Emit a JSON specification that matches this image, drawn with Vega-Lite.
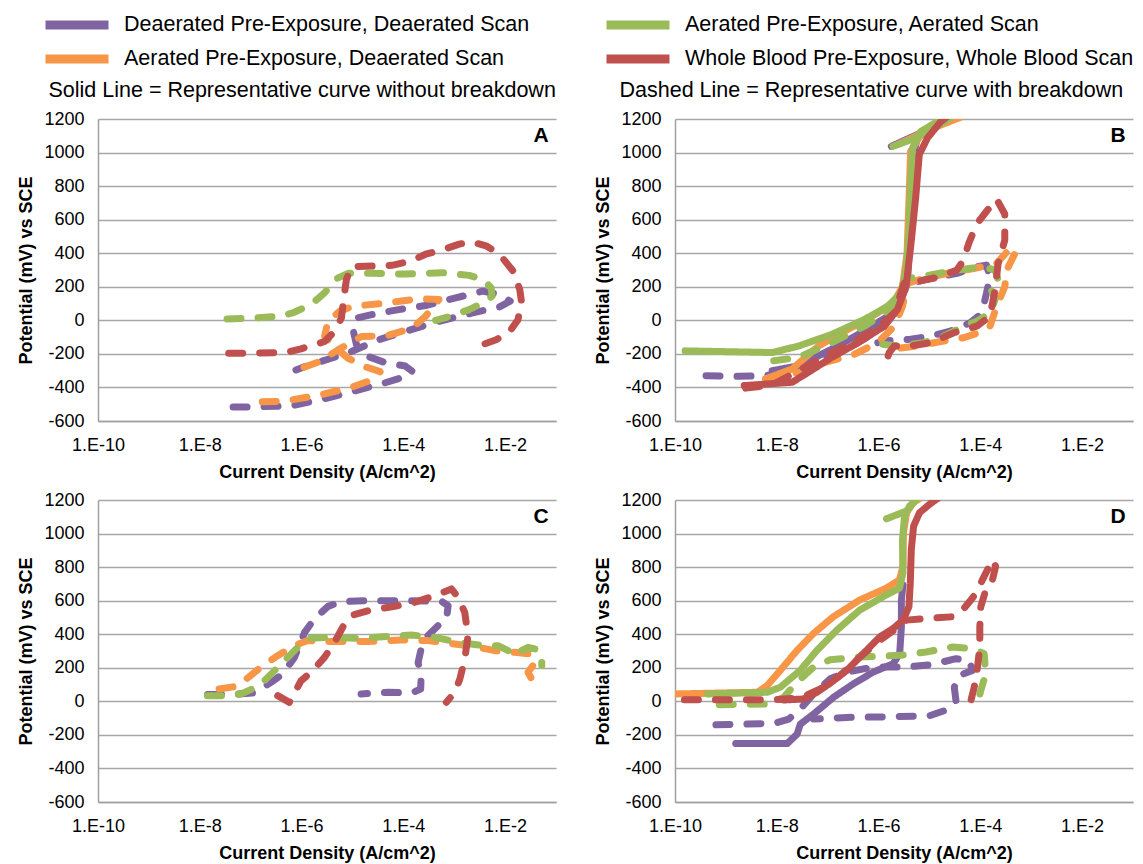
{
  "$schema": "https://vega.github.io/schema/vega-lite/v6.json",
  "padding": {"left": 17, "top": 10, "right": 5, "bottom": 2},
  "background": "white",
  "config": {
    "font": "Liberation Sans",
    "view": {"stroke": null},
    "axis": {"labelFont": "Liberation Sans", "labelFontSize": 18, "labelColor": "#000000", "titleFont": "Liberation Sans", "titleFontSize": 18, "titleFontWeight": "bold", "titleColor": "#000000", "domainColor": "#a0a0a0", "domainWidth": 1.5, "gridColor": "#a6a6a6", "gridWidth": 1.3, "ticks": false, "labelOverlap": false},
    "axisX": {"grid": false, "labelPadding": 15, "titlePadding": 9, "labelFlush": false, "tickCount": 20},
    "axisY": {"grid": true, "labelPadding": 14, "titlePadding": 8, "tickCount": 20},
    "legend": {"labelFontSize": 21.5, "labelFont": "Liberation Sans", "labelColor": "#000000", "labelLimit": 700, "title": null}
  },
  "data": {"values": [
    {"p":"A","s":"DD","t":"dashed","x":4.51e-8,"y":-516},{"p":"A","s":"DD","t":"dashed","x":1.07e-7,"y":-516},{"p":"A","s":"DD","t":"dashed","x":6.18e-7,"y":-510},{"p":"A","s":"DD","t":"dashed","x":2.43e-6,"y":-472},{"p":"A","s":"DD","t":"dashed","x":9.57e-6,"y":-426},{"p":"A","s":"DD","t":"dashed","x":4.40e-5,"y":-372},{"p":"A","s":"DD","t":"dashed","x":1.09e-4,"y":-336},{"p":"A","s":"DD","t":"dashed","x":1.53e-4,"y":-306},{"p":"A","s":"DD","t":"dashed","x":1.09e-4,"y":-272},{"p":"A","s":"DD","t":"dashed","x":4.40e-5,"y":-252},{"p":"A","s":"DD","t":"dashed","x":2.05e-5,"y":-216},{"p":"A","s":"DD","t":"dashed","x":1.20e-5,"y":-146},{"p":"A","s":"DD","t":"dashed","x":1.03e-5,"y":-56},{"p":"A","s":"DD","t":"dashed","x":1.20e-5,"y":14},{"p":"A","s":"DD","t":"dashed","x":2.39e-5,"y":34},{"p":"A","s":"DD","t":"dashed","x":8.07e-5,"y":64},{"p":"A","s":"DD","t":"dashed","x":2.73e-4,"y":88},{"p":"A","s":"DD","t":"dashed","x":1.07e-3,"y":134},{"p":"A","s":"DD","t":"dashed","x":3.63e-3,"y":174},{"p":"A","s":"DD","t":"dashed","x":7.78e-3,"y":154},{"p":"A","s":"DD","t":"dashed","x":1.26e-2,"y":114},{"p":"A","s":"DD","t":"dashed","x":7.78e-3,"y":80},{"p":"A","s":"DD","t":"dashed","x":2.30e-3,"y":44},{"p":"A","s":"DD","t":"dashed","x":5.01e-4,"y":-6},{"p":"A","s":"DD","t":"dashed","x":1.09e-4,"y":-66},{"p":"A","s":"DD","t":"dashed","x":3.24e-5,"y":-116},{"p":"A","s":"DD","t":"dashed","x":9.57e-6,"y":-186},{"p":"A","s":"DD","t":"dashed","x":3.85e-6,"y":-226},{"p":"A","s":"DD","t":"dashed","x":1.14e-6,"y":-276},{"p":"A","s":"DD","t":"dashed","x":7.76e-7,"y":-296},
    {"p":"A","s":"AD","t":"dashed","x":1.69e-7,"y":-486},{"p":"A","s":"AD","t":"dashed","x":4.56e-7,"y":-482},{"p":"A","s":"AD","t":"dashed","x":2.25e-6,"y":-446},{"p":"A","s":"AD","t":"dashed","x":1.03e-5,"y":-396},{"p":"A","s":"AD","t":"dashed","x":2.39e-5,"y":-356},{"p":"A","s":"AD","t":"dashed","x":3.49e-5,"y":-306},{"p":"A","s":"AD","t":"dashed","x":1.76e-5,"y":-276},{"p":"A","s":"AD","t":"dashed","x":8.22e-6,"y":-226},{"p":"A","s":"AD","t":"dashed","x":4.83e-6,"y":-166},{"p":"A","s":"AD","t":"dashed","x":2.83e-6,"y":-96},{"p":"A","s":"AD","t":"dashed","x":3.30e-6,"y":-6},{"p":"A","s":"AD","t":"dashed","x":5.62e-6,"y":54},{"p":"A","s":"AD","t":"dashed","x":1.03e-5,"y":84},{"p":"A","s":"AD","t":"dashed","x":3.77e-5,"y":100},{"p":"A","s":"AD","t":"dashed","x":2.01e-4,"y":128},{"p":"A","s":"AD","t":"dashed","x":5.01e-4,"y":124},{"p":"A","s":"AD","t":"dashed","x":2.73e-4,"y":24},{"p":"A","s":"AD","t":"dashed","x":1.48e-4,"y":-46},{"p":"A","s":"AD","t":"dashed","x":4.74e-5,"y":-92},{"p":"A","s":"AD","t":"dashed","x":1.51e-5,"y":-96},{"p":"A","s":"AD","t":"dashed","x":5.21e-6,"y":-176},{"p":"A","s":"AD","t":"dashed","x":2.25e-6,"y":-246},{"p":"A","s":"AD","t":"dashed","x":9.75e-7,"y":-286},
    {"p":"A","s":"AA","t":"dashed","x":3.43e-8,"y":8},{"p":"A","s":"AA","t":"dashed","x":9.23e-8,"y":12},{"p":"A","s":"AA","t":"dashed","x":3.92e-7,"y":24},{"p":"A","s":"AA","t":"dashed","x":7.19e-7,"y":48},{"p":"A","s":"AA","t":"dashed","x":1.54e-6,"y":94},{"p":"A","s":"AA","t":"dashed","x":2.83e-6,"y":164},{"p":"A","s":"AA","t":"dashed","x":4.83e-6,"y":248},{"p":"A","s":"AA","t":"dashed","x":8.22e-6,"y":280},{"p":"A","s":"AA","t":"dashed","x":2.39e-5,"y":280},{"p":"A","s":"AA","t":"dashed","x":1.09e-4,"y":276},{"p":"A","s":"AA","t":"dashed","x":5.85e-4,"y":284},{"p":"A","s":"AA","t":"dashed","x":1.97e-3,"y":268},{"p":"A","s":"AA","t":"dashed","x":3.63e-3,"y":244},{"p":"A","s":"AA","t":"dashed","x":5.31e-3,"y":194},{"p":"A","s":"AA","t":"dashed","x":5.56e-3,"y":144},{"p":"A","s":"AA","t":"dashed","x":3.63e-3,"y":104},{"p":"A","s":"AA","t":"dashed","x":1.97e-3,"y":64},{"p":"A","s":"AA","t":"dashed","x":9.23e-4,"y":28},{"p":"A","s":"AA","t":"dashed","x":4.31e-4,"y":0},
    {"p":"A","s":"WB","t":"dashed","x":3.70e-8,"y":-196},{"p":"A","s":"WB","t":"dashed","x":1.0e-7,"y":-196},{"p":"A","s":"WB","t":"dashed","x":4.92e-7,"y":-192},{"p":"A","s":"WB","t":"dashed","x":9.75e-7,"y":-170},{"p":"A","s":"WB","t":"dashed","x":2.83e-6,"y":-126},{"p":"A","s":"WB","t":"dashed","x":4.48e-6,"y":-66},{"p":"A","s":"WB","t":"dashed","x":6.07e-6,"y":14},{"p":"A","s":"WB","t":"dashed","x":6.85e-6,"y":144},{"p":"A","s":"WB","t":"dashed","x":7.62e-6,"y":244},{"p":"A","s":"WB","t":"dashed","x":9.57e-6,"y":320},{"p":"A","s":"WB","t":"dashed","x":2.78e-5,"y":324},{"p":"A","s":"WB","t":"dashed","x":5.96e-5,"y":328},{"p":"A","s":"WB","t":"dashed","x":1.37e-4,"y":352},{"p":"A","s":"WB","t":"dashed","x":2.73e-4,"y":394},{"p":"A","s":"WB","t":"dashed","x":5.85e-4,"y":420},{"p":"A","s":"WB","t":"dashed","x":1.25e-3,"y":454},{"p":"A","s":"WB","t":"dashed","x":2.13e-3,"y":468},{"p":"A","s":"WB","t":"dashed","x":4.23e-3,"y":444},{"p":"A","s":"WB","t":"dashed","x":7.78e-3,"y":394},{"p":"A","s":"WB","t":"dashed","x":1.43e-2,"y":294},{"p":"A","s":"WB","t":"dashed","x":1.94e-2,"y":184},{"p":"A","s":"WB","t":"dashed","x":2.09e-2,"y":114},{"p":"A","s":"WB","t":"dashed","x":1.79e-2,"y":4},{"p":"A","s":"WB","t":"dashed","x":1.23e-2,"y":-66},{"p":"A","s":"WB","t":"dashed","x":6.67e-3,"y":-116},{"p":"A","s":"WB","t":"dashed","x":2.30e-3,"y":-166},

    {"p":"B","s":"DD","t":"dashed","x":4.07e-10,"y":-330},{"p":"B","s":"DD","t":"dashed","x":1.82e-9,"y":-334},{"p":"B","s":"DD","t":"dashed","x":6.03e-9,"y":-330},{"p":"B","s":"DD","t":"dashed","x":2.00e-8,"y":-300},{"p":"B","s":"DD","t":"dashed","x":8.91e-8,"y":-221},{"p":"B","s":"DD","t":"dashed","x":3.98e-7,"y":-133},{"p":"B","s":"DD","t":"dashed","x":1.29e-6,"y":-35},{"p":"B","s":"DD","t":"dashed","x":2.34e-6,"y":64},{"p":"B","s":"DD","t":"dashed","x":3.16e-6,"y":172},{"p":"B","s":"DD","t":"dashed","x":4.27e-6,"y":221},{"p":"B","s":"DD","t":"dashed","x":1.05e-5,"y":250},{"p":"B","s":"DD","t":"dashed","x":3.47e-5,"y":280},{"p":"B","s":"DD","t":"dashed","x":8.51e-5,"y":319},{"p":"B","s":"DD","t":"dashed","x":1.32e-4,"y":329},{"p":"B","s":"DD","t":"dashed","x":1.55e-4,"y":260},{"p":"B","s":"DD","t":"dashed","x":1.32e-4,"y":162},{"p":"B","s":"DD","t":"dashed","x":1.15e-4,"y":83},{"p":"B","s":"DD","t":"dashed","x":9.12e-5,"y":24},{"p":"B","s":"DD","t":"dashed","x":6.31e-5,"y":-15},{"p":"B","s":"DD","t":"dashed","x":2.57e-5,"y":-64},{"p":"B","s":"DD","t":"dashed","x":1.05e-5,"y":-94},{"p":"B","s":"DD","t":"dashed","x":4.27e-6,"y":-113},{"p":"B","s":"DD","t":"dashed","x":1.29e-6,"y":-123},{"p":"B","s":"DD","t":"dashed","x":9.66e-7,"y":-133},
    {"p":"B","s":"DD","t":"solid","x":8.13e-9,"y":-300},{"p":"B","s":"DD","t":"solid","x":2.69e-8,"y":-271},{"p":"B","s":"DD","t":"solid","x":1.20e-7,"y":-172},{"p":"B","s":"DD","t":"solid","x":5.25e-7,"y":-64},{"p":"B","s":"DD","t":"solid","x":1.51e-6,"y":24},{"p":"B","s":"DD","t":"solid","x":2.75e-6,"y":122},{"p":"B","s":"DD","t":"solid","x":3.72e-6,"y":241},{"p":"B","s":"DD","t":"solid","x":4.17e-6,"y":535},{"p":"B","s":"DD","t":"solid","x":4.47e-6,"y":929},{"p":"B","s":"DD","t":"solid","x":5.75e-6,"y":1086},{"p":"B","s":"DD","t":"solid","x":1.41e-5,"y":1174},{"p":"B","s":"DD","t":"solid","x":3.02e-5,"y":1210},{"p":"B","s":"DD","t":"solid","x":9.12e-6,"y":1135},{"p":"B","s":"DD","t":"solid","x":1.78e-6,"y":1037},
    {"p":"B","s":"AD","t":"dashed","x":6.03e-9,"y":-349},{"p":"B","s":"AD","t":"dashed","x":2.69e-8,"y":-310},{"p":"B","s":"AD","t":"dashed","x":5.62e-8,"y":-290},{"p":"B","s":"AD","t":"dashed","x":8.91e-8,"y":-251},{"p":"B","s":"AD","t":"dashed","x":3.39e-7,"y":-202},{"p":"B","s":"AD","t":"dashed","x":9.66e-7,"y":-133},{"p":"B","s":"AD","t":"dashed","x":2.04e-6,"y":-35},{"p":"B","s":"AD","t":"dashed","x":2.95e-6,"y":83},{"p":"B","s":"AD","t":"dashed","x":3.72e-6,"y":221},{"p":"B","s":"AD","t":"dashed","x":7.76e-6,"y":250},{"p":"B","s":"AD","t":"dashed","x":2.57e-5,"y":284},{"p":"B","s":"AD","t":"dashed","x":7.41e-5,"y":309},{"p":"B","s":"AD","t":"dashed","x":2.09e-4,"y":339},{"p":"B","s":"AD","t":"dashed","x":3.80e-4,"y":427},{"p":"B","s":"AD","t":"dashed","x":5.13e-4,"y":417},{"p":"B","s":"AD","t":"dashed","x":3.31e-4,"y":300},{"p":"B","s":"AD","t":"dashed","x":3.02e-4,"y":201},{"p":"B","s":"AD","t":"dashed","x":2.09e-4,"y":83},{"p":"B","s":"AD","t":"dashed","x":1.55e-4,"y":-35},{"p":"B","s":"AD","t":"dashed","x":1.15e-4,"y":-64},{"p":"B","s":"AD","t":"dashed","x":4.68e-5,"y":-104},{"p":"B","s":"AD","t":"dashed","x":1.91e-5,"y":-123},{"p":"B","s":"AD","t":"dashed","x":5.75e-6,"y":-153},{"p":"B","s":"AD","t":"dashed","x":1.74e-6,"y":-172},
    {"p":"B","s":"AD","t":"solid","x":6.03e-9,"y":-349},{"p":"B","s":"AD","t":"solid","x":2.00e-8,"y":-290},{"p":"B","s":"AD","t":"solid","x":6.61e-8,"y":-153},{"p":"B","s":"AD","t":"solid","x":2.51e-7,"y":-54},{"p":"B","s":"AD","t":"solid","x":9.66e-7,"y":44},{"p":"B","s":"AD","t":"solid","x":2.04e-6,"y":113},{"p":"B","s":"AD","t":"solid","x":2.95e-6,"y":201},{"p":"B","s":"AD","t":"solid","x":3.63e-6,"y":398},{"p":"B","s":"AD","t":"solid","x":3.98e-6,"y":732},{"p":"B","s":"AD","t":"solid","x":4.27e-6,"y":1007},{"p":"B","s":"AD","t":"solid","x":7.76e-6,"y":1135},{"p":"B","s":"AD","t":"solid","x":1.91e-5,"y":1180},{"p":"B","s":"AD","t":"solid","x":4.07e-5,"y":1210},{"p":"B","s":"AD","t":"solid","x":1.05e-5,"y":1140},{"p":"B","s":"AD","t":"solid","x":2.34e-6,"y":1047},
    {"p":"B","s":"AA","t":"dashed","x":8.71e-9,"y":-241},{"p":"B","s":"AA","t":"dashed","x":2.69e-8,"y":-221},{"p":"B","s":"AA","t":"dashed","x":1.20e-7,"y":-133},{"p":"B","s":"AA","t":"dashed","x":5.25e-7,"y":-35},{"p":"B","s":"AA","t":"dashed","x":1.74e-6,"y":64},{"p":"B","s":"AA","t":"dashed","x":2.95e-6,"y":182},{"p":"B","s":"AA","t":"dashed","x":3.72e-6,"y":250},{"p":"B","s":"AA","t":"dashed","x":1.05e-5,"y":270},{"p":"B","s":"AA","t":"dashed","x":3.47e-5,"y":300},{"p":"B","s":"AA","t":"dashed","x":1.15e-4,"y":319},{"p":"B","s":"AA","t":"dashed","x":1.95e-4,"y":300},{"p":"B","s":"AA","t":"dashed","x":2.24e-4,"y":241},{"p":"B","s":"AA","t":"dashed","x":1.55e-4,"y":201},{"p":"B","s":"AA","t":"dashed","x":1.95e-4,"y":123},{"p":"B","s":"AA","t":"dashed","x":1.55e-4,"y":44},{"p":"B","s":"AA","t":"dashed","x":8.51e-5,"y":-5},{"p":"B","s":"AA","t":"dashed","x":4.68e-5,"y":-35},{"p":"B","s":"AA","t":"dashed","x":1.91e-5,"y":-94},{"p":"B","s":"AA","t":"dashed","x":7.76e-6,"y":-133},{"p":"B","s":"AA","t":"dashed","x":2.34e-6,"y":-153},{"p":"B","s":"AA","t":"dashed","x":8.32e-7,"y":-137},
    {"p":"B","s":"AA","t":"solid","x":1.58e-10,"y":-182},{"p":"B","s":"AA","t":"solid","x":8.13e-9,"y":-192},{"p":"B","s":"AA","t":"solid","x":2.69e-8,"y":-153},{"p":"B","s":"AA","t":"solid","x":1.20e-7,"y":-84},{"p":"B","s":"AA","t":"solid","x":5.25e-7,"y":5},{"p":"B","s":"AA","t":"solid","x":1.51e-6,"y":83},{"p":"B","s":"AA","t":"solid","x":2.75e-6,"y":162},{"p":"B","s":"AA","t":"solid","x":3.47e-6,"y":300},{"p":"B","s":"AA","t":"solid","x":3.98e-6,"y":535},{"p":"B","s":"AA","t":"solid","x":4.27e-6,"y":830},{"p":"B","s":"AA","t":"solid","x":4.68e-6,"y":1027},{"p":"B","s":"AA","t":"solid","x":6.76e-6,"y":1125},{"p":"B","s":"AA","t":"solid","x":1.41e-5,"y":1184},{"p":"B","s":"AA","t":"solid","x":2.57e-5,"y":1205},{"p":"B","s":"AA","t":"solid","x":1.05e-5,"y":1135},{"p":"B","s":"AA","t":"solid","x":4.27e-6,"y":1076},{"p":"B","s":"AA","t":"solid","x":1.91e-6,"y":1037},
    {"p":"B","s":"WB","t":"dashed","x":2.45e-9,"y":-404},{"p":"B","s":"WB","t":"dashed","x":8.13e-9,"y":-385},{"p":"B","s":"WB","t":"dashed","x":2.69e-8,"y":-300},{"p":"B","s":"WB","t":"dashed","x":8.91e-8,"y":-212},{"p":"B","s":"WB","t":"dashed","x":2.95e-7,"y":-133},{"p":"B","s":"WB","t":"dashed","x":9.66e-7,"y":-44},{"p":"B","s":"WB","t":"dashed","x":2.04e-6,"y":44},{"p":"B","s":"WB","t":"dashed","x":2.75e-6,"y":162},{"p":"B","s":"WB","t":"dashed","x":3.16e-6,"y":221},{"p":"B","s":"WB","t":"dashed","x":5.75e-6,"y":231},{"p":"B","s":"WB","t":"dashed","x":1.41e-5,"y":256},{"p":"B","s":"WB","t":"dashed","x":3.47e-5,"y":300},{"p":"B","s":"WB","t":"dashed","x":4.68e-5,"y":359},{"p":"B","s":"WB","t":"dashed","x":5.89e-5,"y":457},{"p":"B","s":"WB","t":"dashed","x":8.51e-5,"y":575},{"p":"B","s":"WB","t":"dashed","x":1.35e-4,"y":653},{"p":"B","s":"WB","t":"dashed","x":2.09e-4,"y":722},{"p":"B","s":"WB","t":"dashed","x":3.02e-4,"y":634},{"p":"B","s":"WB","t":"dashed","x":3.02e-4,"y":477},{"p":"B","s":"WB","t":"dashed","x":2.24e-4,"y":339},{"p":"B","s":"WB","t":"dashed","x":1.95e-4,"y":182},{"p":"B","s":"WB","t":"dashed","x":1.55e-4,"y":24},{"p":"B","s":"WB","t":"dashed","x":8.51e-5,"y":-35},{"p":"B","s":"WB","t":"dashed","x":3.02e-5,"y":-74},{"p":"B","s":"WB","t":"dashed","x":1.05e-5,"y":-133},{"p":"B","s":"WB","t":"dashed","x":4.27e-6,"y":-153},{"p":"B","s":"WB","t":"dashed","x":2.04e-6,"y":-153},{"p":"B","s":"WB","t":"dashed","x":1.62e-6,"y":-192},{"p":"B","s":"WB","t":"dashed","x":1.30e-6,"y":-280},
    {"p":"B","s":"WB","t":"solid","x":2.29e-9,"y":-389},{"p":"B","s":"WB","t":"solid","x":2.00e-8,"y":-369},{"p":"B","s":"WB","t":"solid","x":4.17e-8,"y":-310},{"p":"B","s":"WB","t":"solid","x":1.20e-7,"y":-221},{"p":"B","s":"WB","t":"solid","x":3.98e-7,"y":-133},{"p":"B","s":"WB","t":"solid","x":1.29e-6,"y":-35},{"p":"B","s":"WB","t":"solid","x":2.34e-6,"y":64},{"p":"B","s":"WB","t":"solid","x":3.47e-6,"y":201},{"p":"B","s":"WB","t":"solid","x":4.27e-6,"y":437},{"p":"B","s":"WB","t":"solid","x":5.37e-6,"y":732},{"p":"B","s":"WB","t":"solid","x":6.31e-6,"y":988},{"p":"B","s":"WB","t":"solid","x":9.12e-6,"y":1086},{"p":"B","s":"WB","t":"solid","x":1.66e-5,"y":1184},{"p":"B","s":"WB","t":"solid","x":2.24e-5,"y":1214},

    {"p":"C","s":"DD","t":"dashed","x":1.42e-8,"y":40},{"p":"C","s":"DD","t":"dashed","x":3.52e-8,"y":40},{"p":"C","s":"DD","t":"dashed","x":1.18e-7,"y":50},{"p":"C","s":"DD","t":"dashed","x":2.51e-7,"y":113},{"p":"C","s":"DD","t":"dashed","x":4.27e-7,"y":163},{"p":"C","s":"DD","t":"dashed","x":7.24e-7,"y":262},{"p":"C","s":"DD","t":"dashed","x":1.15e-6,"y":411},{"p":"C","s":"DD","t":"dashed","x":1.78e-6,"y":491},{"p":"C","s":"DD","t":"dashed","x":3.31e-6,"y":566},{"p":"C","s":"DD","t":"dashed","x":6.03e-6,"y":594},{"p":"C","s":"DD","t":"dashed","x":2.00e-5,"y":600},{"p":"C","s":"DD","t":"dashed","x":9.12e-5,"y":600},{"p":"C","s":"DD","t":"dashed","x":5.62e-4,"y":596},{"p":"C","s":"DD","t":"dashed","x":7.59e-4,"y":570},{"p":"C","s":"DD","t":"dashed","x":7.08e-4,"y":491},{"p":"C","s":"DD","t":"dashed","x":4.79e-4,"y":451},{"p":"C","s":"DD","t":"dashed","x":3.02e-4,"y":391},{"p":"C","s":"DD","t":"dashed","x":2.24e-4,"y":312},{"p":"C","s":"DD","t":"dashed","x":1.95e-4,"y":232},{"p":"C","s":"DD","t":"dashed","x":2.24e-4,"y":153},{"p":"C","s":"DD","t":"dashed","x":2.19e-4,"y":73},{"p":"C","s":"DD","t":"dashed","x":1.45e-4,"y":50},{"p":"C","s":"DD","t":"dashed","x":5.01e-5,"y":54},{"p":"C","s":"DD","t":"dashed","x":1.48e-5,"y":44},
    {"p":"C","s":"AD","t":"dashed","x":2.40e-8,"y":74},{"p":"C","s":"AD","t":"dashed","x":5.50e-8,"y":90},{"p":"C","s":"AD","t":"dashed","x":7.50e-8,"y":123},{"p":"C","s":"AD","t":"dashed","x":1.58e-7,"y":203},{"p":"C","s":"AD","t":"dashed","x":3.39e-7,"y":272},{"p":"C","s":"AD","t":"dashed","x":7.24e-7,"y":332},{"p":"C","s":"AD","t":"dashed","x":1.32e-6,"y":362},{"p":"C","s":"AD","t":"dashed","x":4.47e-6,"y":356},{"p":"C","s":"AD","t":"dashed","x":2.00e-5,"y":356},{"p":"C","s":"AD","t":"dashed","x":9.12e-5,"y":366},{"p":"C","s":"AD","t":"dashed","x":3.05e-4,"y":362},{"p":"C","s":"AD","t":"dashed","x":1.02e-3,"y":342},{"p":"C","s":"AD","t":"dashed","x":2.95e-3,"y":322},{"p":"C","s":"AD","t":"dashed","x":6.31e-3,"y":302},{"p":"C","s":"AD","t":"dashed","x":1.55e-2,"y":292},{"p":"C","s":"AD","t":"dashed","x":3.31e-2,"y":282},{"p":"C","s":"AD","t":"dashed","x":3.89e-2,"y":232},{"p":"C","s":"AD","t":"dashed","x":2.82e-2,"y":173},{"p":"C","s":"AD","t":"dashed","x":3.31e-2,"y":133},{"p":"C","s":"AD","t":"dashed","x":5.25e-2,"y":163},
    {"p":"C","s":"AA","t":"dashed","x":1.41e-8,"y":34},{"p":"C","s":"AA","t":"dashed","x":3.55e-8,"y":34},{"p":"C","s":"AA","t":"dashed","x":6.46e-8,"y":44},{"p":"C","s":"AA","t":"dashed","x":1.48e-7,"y":93},{"p":"C","s":"AA","t":"dashed","x":2.95e-7,"y":183},{"p":"C","s":"AA","t":"dashed","x":5.37e-7,"y":262},{"p":"C","s":"AA","t":"dashed","x":9.77e-7,"y":342},{"p":"C","s":"AA","t":"dashed","x":1.41e-6,"y":375},{"p":"C","s":"AA","t":"dashed","x":3.31e-6,"y":381},{"p":"C","s":"AA","t":"dashed","x":1.48e-5,"y":375},{"p":"C","s":"AA","t":"dashed","x":6.76e-5,"y":391},{"p":"C","s":"AA","t":"dashed","x":1.45e-4,"y":395},{"p":"C","s":"AA","t":"dashed","x":4.17e-4,"y":381},{"p":"C","s":"AA","t":"dashed","x":1.38e-3,"y":348},{"p":"C","s":"AA","t":"dashed","x":3.98e-3,"y":332},{"p":"C","s":"AA","t":"dashed","x":7.24e-3,"y":332},{"p":"C","s":"AA","t":"dashed","x":1.15e-2,"y":302},{"p":"C","s":"AA","t":"dashed","x":1.55e-2,"y":332},{"p":"C","s":"AA","t":"dashed","x":2.09e-2,"y":302},{"p":"C","s":"AA","t":"dashed","x":2.82e-2,"y":322},{"p":"C","s":"AA","t":"dashed","x":3.89e-2,"y":312},{"p":"C","s":"AA","t":"dashed","x":5.25e-2,"y":282},{"p":"C","s":"AA","t":"dashed","x":5.25e-2,"y":213},
    {"p":"C","s":"WB","t":"dashed","x":3.40e-7,"y":34},{"p":"C","s":"WB","t":"dashed","x":5.77e-7,"y":-6},{"p":"C","s":"WB","t":"dashed","x":9.79e-7,"y":123},{"p":"C","s":"WB","t":"dashed","x":1.54e-6,"y":173},{"p":"C","s":"WB","t":"dashed","x":2.82e-6,"y":262},{"p":"C","s":"WB","t":"dashed","x":4.44e-6,"y":352},{"p":"C","s":"WB","t":"dashed","x":6.98e-6,"y":461},{"p":"C","s":"WB","t":"dashed","x":9.46e-6,"y":511},{"p":"C","s":"WB","t":"dashed","x":2.01e-5,"y":540},{"p":"C","s":"WB","t":"dashed","x":6.75e-5,"y":566},{"p":"C","s":"WB","t":"dashed","x":1.67e-4,"y":590},{"p":"C","s":"WB","t":"dashed","x":4.13e-4,"y":630},{"p":"C","s":"WB","t":"dashed","x":8.81e-4,"y":670},{"p":"C","s":"WB","t":"dashed","x":1.19e-3,"y":620},{"p":"C","s":"WB","t":"dashed","x":1.61e-3,"y":530},{"p":"C","s":"WB","t":"dashed","x":1.87e-3,"y":391},{"p":"C","s":"WB","t":"dashed","x":1.61e-3,"y":252},{"p":"C","s":"WB","t":"dashed","x":1.29e-3,"y":133},{"p":"C","s":"WB","t":"dashed","x":1.02e-3,"y":54},{"p":"C","s":"WB","t":"dashed","x":7.02e-4,"y":-6},

    {"p":"D","s":"DD","t":"dashed","x":6.37e-10,"y":-140},{"p":"D","s":"DD","t":"dashed","x":8.75e-9,"y":-132},{"p":"D","s":"DD","t":"dashed","x":1.72e-8,"y":-106},{"p":"D","s":"DD","t":"dashed","x":2.90e-8,"y":-46},{"p":"D","s":"DD","t":"dashed","x":5.28e-8,"y":44},{"p":"D","s":"DD","t":"dashed","x":1.12e-7,"y":134},{"p":"D","s":"DD","t":"dashed","x":2.37e-7,"y":174},{"p":"D","s":"DD","t":"dashed","x":7.83e-7,"y":204},{"p":"D","s":"DD","t":"dashed","x":3.51e-6,"y":204},{"p":"D","s":"DD","t":"dashed","x":1.16e-5,"y":220},{"p":"D","s":"DD","t":"dashed","x":3.32e-5,"y":254},{"p":"D","s":"DD","t":"dashed","x":6.04e-5,"y":244},{"p":"D","s":"DD","t":"dashed","x":7.01e-5,"y":184},{"p":"D","s":"DD","t":"dashed","x":3.85e-5,"y":154},{"p":"D","s":"DD","t":"dashed","x":3.08e-5,"y":84},{"p":"D","s":"DD","t":"dashed","x":3.32e-5,"y":4},{"p":"D","s":"DD","t":"dashed","x":2.46e-5,"y":-46},{"p":"D","s":"DD","t":"dashed","x":1.00e-5,"y":-86},{"p":"D","s":"DD","t":"dashed","x":1.66e-6,"y":-92},{"p":"D","s":"DD","t":"dashed","x":2.37e-7,"y":-96},{"p":"D","s":"DD","t":"dashed","x":5.28e-8,"y":-106},
    {"p":"D","s":"DD","t":"solid","x":1.56e-9,"y":-252},{"p":"D","s":"DD","t":"solid","x":1.60e-8,"y":-252},{"p":"D","s":"DD","t":"solid","x":2.50e-8,"y":-196},{"p":"D","s":"DD","t":"solid","x":2.90e-8,"y":-136},{"p":"D","s":"DD","t":"solid","x":5.28e-8,"y":-76},{"p":"D","s":"DD","t":"solid","x":1.30e-7,"y":24},{"p":"D","s":"DD","t":"solid","x":3.19e-7,"y":104},{"p":"D","s":"DD","t":"solid","x":7.83e-7,"y":174},{"p":"D","s":"DD","t":"solid","x":1.93e-6,"y":224},{"p":"D","s":"DD","t":"solid","x":2.60e-6,"y":284},{"p":"D","s":"DD","t":"solid","x":2.81e-6,"y":444},{"p":"D","s":"DD","t":"solid","x":2.81e-6,"y":604},{"p":"D","s":"DD","t":"solid","x":3.02e-6,"y":694},
    {"p":"D","s":"AD","t":"solid","x":1.0e-10,"y":44},{"p":"D","s":"AD","t":"solid","x":4.17e-9,"y":54},{"p":"D","s":"AD","t":"solid","x":6.46e-9,"y":94},{"p":"D","s":"AD","t":"solid","x":1.17e-8,"y":184},{"p":"D","s":"AD","t":"solid","x":2.51e-8,"y":304},{"p":"D","s":"AD","t":"solid","x":5.25e-8,"y":404},{"p":"D","s":"AD","t":"solid","x":1.29e-7,"y":504},{"p":"D","s":"AD","t":"solid","x":4.27e-7,"y":604},{"p":"D","s":"AD","t":"solid","x":1.41e-6,"y":674},{"p":"D","s":"AD","t":"solid","x":2.57e-6,"y":724},{"p":"D","s":"AD","t":"solid","x":3.02e-6,"y":804},{"p":"D","s":"AD","t":"solid","x":3.09e-6,"y":1004},{"p":"D","s":"AD","t":"solid","x":3.55e-6,"y":1124},{"p":"D","s":"AD","t":"solid","x":4.79e-6,"y":1184},{"p":"D","s":"AD","t":"solid","x":6.46e-6,"y":1210},
    {"p":"D","s":"AA","t":"dashed","x":7.40e-10,"y":-20},{"p":"D","s":"AA","t":"dashed","x":7.53e-9,"y":-16},{"p":"D","s":"AA","t":"dashed","x":1.37e-8,"y":24},{"p":"D","s":"AA","t":"dashed","x":2.50e-8,"y":114},{"p":"D","s":"AA","t":"dashed","x":5.28e-8,"y":204},{"p":"D","s":"AA","t":"dashed","x":1.12e-7,"y":248},{"p":"D","s":"AA","t":"dashed","x":4.31e-7,"y":264},{"p":"D","s":"AA","t":"dashed","x":2.60e-6,"y":274},{"p":"D","s":"AA","t":"dashed","x":8.61e-6,"y":294},{"p":"D","s":"AA","t":"dashed","x":2.86e-5,"y":324},{"p":"D","s":"AA","t":"dashed","x":7.01e-5,"y":314},{"p":"D","s":"AA","t":"dashed","x":1.19e-4,"y":284},{"p":"D","s":"AA","t":"dashed","x":1.28e-4,"y":164},{"p":"D","s":"AA","t":"dashed","x":1.02e-4,"y":64},{"p":"D","s":"AA","t":"dashed","x":8.41e-5,"y":-36},
    {"p":"D","s":"AA","t":"solid","x":4.38e-10,"y":44},{"p":"D","s":"AA","t":"solid","x":6.49e-9,"y":54},{"p":"D","s":"AA","t":"solid","x":1.17e-8,"y":84},{"p":"D","s":"AA","t":"solid","x":2.88e-8,"y":184},{"p":"D","s":"AA","t":"solid","x":6.17e-8,"y":304},{"p":"D","s":"AA","t":"solid","x":1.51e-7,"y":424},{"p":"D","s":"AA","t":"solid","x":4.27e-7,"y":544},{"p":"D","s":"AA","t":"solid","x":1.41e-6,"y":634},{"p":"D","s":"AA","t":"solid","x":2.57e-6,"y":674},{"p":"D","s":"AA","t":"solid","x":3.02e-6,"y":764},{"p":"D","s":"AA","t":"solid","x":2.95e-6,"y":964},{"p":"D","s":"AA","t":"solid","x":3.24e-6,"y":1104},{"p":"D","s":"AA","t":"solid","x":4.07e-6,"y":1164},{"p":"D","s":"AA","t":"solid","x":5.89e-6,"y":1210},{"p":"D","s":"AA","t":"solid","x":3.51e-6,"y":1134},{"p":"D","s":"AA","t":"solid","x":1.43e-6,"y":1088},
    {"p":"D","s":"WB","t":"dashed","x":1.53e-10,"y":10},{"p":"D","s":"WB","t":"dashed","x":8.75e-9,"y":10},{"p":"D","s":"WB","t":"dashed","x":2.90e-8,"y":20},{"p":"D","s":"WB","t":"dashed","x":7.13e-8,"y":74},{"p":"D","s":"WB","t":"dashed","x":1.75e-7,"y":154},{"p":"D","s":"WB","t":"dashed","x":4.31e-7,"y":264},{"p":"D","s":"WB","t":"dashed","x":1.06e-6,"y":364},{"p":"D","s":"WB","t":"dashed","x":2.24e-6,"y":434},{"p":"D","s":"WB","t":"dashed","x":3.51e-6,"y":484},{"p":"D","s":"WB","t":"dashed","x":8.61e-6,"y":494},{"p":"D","s":"WB","t":"dashed","x":2.86e-5,"y":504},{"p":"D","s":"WB","t":"dashed","x":4.48e-5,"y":544},{"p":"D","s":"WB","t":"dashed","x":6.52e-5,"y":604},{"p":"D","s":"WB","t":"dashed","x":8.17e-5,"y":644},{"p":"D","s":"WB","t":"dashed","x":1.10e-4,"y":724},{"p":"D","s":"WB","t":"dashed","x":1.49e-4,"y":804},{"p":"D","s":"WB","t":"dashed","x":1.73e-4,"y":844},{"p":"D","s":"WB","t":"dashed","x":2.00e-4,"y":804},{"p":"D","s":"WB","t":"dashed","x":1.73e-4,"y":724},{"p":"D","s":"WB","t":"dashed","x":1.28e-4,"y":664},{"p":"D","s":"WB","t":"dashed","x":1.02e-4,"y":564},{"p":"D","s":"WB","t":"dashed","x":9.77e-5,"y":444},{"p":"D","s":"WB","t":"dashed","x":9.77e-5,"y":324},{"p":"D","s":"WB","t":"dashed","x":8.79e-5,"y":204},{"p":"D","s":"WB","t":"dashed","x":7.57e-5,"y":84},{"p":"D","s":"WB","t":"dashed","x":6.52e-5,"y":4},
    {"p":"D","s":"WB","t":"solid","x":1.37e-8,"y":8},{"p":"D","s":"WB","t":"solid","x":3.37e-8,"y":14},{"p":"D","s":"WB","t":"solid","x":6.14e-8,"y":54},{"p":"D","s":"WB","t":"solid","x":1.12e-7,"y":108},{"p":"D","s":"WB","t":"solid","x":2.37e-7,"y":184},{"p":"D","s":"WB","t":"solid","x":5.00e-7,"y":284},{"p":"D","s":"WB","t":"solid","x":1.06e-6,"y":384},{"p":"D","s":"WB","t":"solid","x":1.93e-6,"y":434},{"p":"D","s":"WB","t":"solid","x":3.02e-6,"y":484},{"p":"D","s":"WB","t":"solid","x":3.95e-6,"y":564},{"p":"D","s":"WB","t":"solid","x":4.20e-6,"y":704},{"p":"D","s":"WB","t":"solid","x":4.40e-6,"y":904},{"p":"D","s":"WB","t":"solid","x":4.88e-6,"y":1044},{"p":"D","s":"WB","t":"solid","x":6.38e-6,"y":1124},{"p":"D","s":"WB","t":"solid","x":1.00e-5,"y":1174},{"p":"D","s":"WB","t":"solid","x":1.46e-5,"y":1210}
  ]},
  "columns": 2,
  "spacing": {"row": 10, "column": 38},
  "concat": [
    {"transform": [{"filter": "datum.p == 'A'"}], "width": 458, "height": 302, "layer": [
      {"mark": {"type": "line", "strokeWidth": 7, "strokeCap": "round", "strokeJoin": "round", "clip": true},
       "encoding": {
         "x": {"field": "x", "type": "quantitative", "scale": {"type": "log", "domain": [1e-10, 0.1]}, "axis": {"title": "Current Density (A/cm^2)", "values": [1e-10, 1e-8, 1e-6, 1e-4, 1e-2], "labelExpr": "'1.E' + round(log(datum.value)/LN10)"}},
         "y": {"field": "y", "type": "quantitative", "scale": {"domain": [-600, 1200], "nice": false, "zero": false}, "axis": {"title": "Potential (mV) vs SCE", "values": [-600, -400, -200, 0, 200, 400, 600, 800, 1000, 1200], "labelExpr": "'' + datum.value"}},
         "color": {"field": "s", "type": "nominal", "scale": {"domain": ["DD", "AA", "AD", "WB"], "range": ["#8064A2", "#9BBB59", "#F79646", "#C0504D"]},
                   "legend": {"orient": "none", "legendX": -36, "legendY": -109, "direction": "horizontal", "columns": 2, "symbolType": "M-3,0H3", "symbolSize": 441, "symbolStrokeWidth": 9, "labelOffset": 32, "rowPadding": -2, "columnPadding": 58,
                              "labelExpr": "datum.label == 'DD' ? 'Deaerated Pre-Exposure, Deaerated Scan' : datum.label == 'AA' ? 'Aerated Pre-Exposure, Aerated Scan' : datum.label == 'AD' ? 'Aerated Pre-Exposure, Deaerated Scan' : 'Whole Blood Pre-Exposure, Whole Blood Scan'"}},
         "strokeDash": {"field": "t", "type": "nominal", "scale": {"domain": ["solid", "dashed"], "range": [[1, 0], [14, 17]]},
                        "legend": {"orient": "none", "legendX": -71, "legendY": -39, "direction": "horizontal", "columns": 2, "symbolType": "stroke", "symbolSize": 1, "symbolOpacity": 0, "symbolStrokeWidth": 0, "labelOffset": 0, "columnPadding": 42,
                                   "labelExpr": "datum.label == 'solid' ? 'Solid Line = Representative curve without breakdown' : 'Dashed Line = Representative curve with breakdown'"}},
         "order": {"value": null}}},
      {"transform": [{"aggregate": [{"op": "count", "as": "n"}], "groupby": ["p"]}],
       "mark": {"type": "text", "align": "right", "baseline": "middle", "fontSize": 21, "fontWeight": "bold", "font": "Liberation Sans", "color": "#000000"},
       "encoding": {"text": {"field": "p"}, "x": {"datum": 0.072}, "y": {"datum": 1100}}}
    ]},
    {"transform": [{"filter": "datum.p == 'B'"}], "width": 458, "height": 302, "layer": [
      {"mark": {"type": "line", "strokeWidth": 7, "strokeCap": "round", "strokeJoin": "round", "clip": true},
       "encoding": {
         "x": {"field": "x", "type": "quantitative", "scale": {"type": "log", "domain": [1e-10, 0.1]}, "axis": {"title": "Current Density (A/cm^2)", "values": [1e-10, 1e-8, 1e-6, 1e-4, 1e-2], "labelExpr": "'1.E' + round(log(datum.value)/LN10)"}},
         "y": {"field": "y", "type": "quantitative", "scale": {"domain": [-600, 1200], "nice": false, "zero": false}, "axis": {"title": "Potential (mV) vs SCE", "values": [-600, -400, -200, 0, 200, 400, 600, 800, 1000, 1200], "labelExpr": "'' + datum.value"}},
         "color": {"field": "s", "type": "nominal", "scale": {"domain": ["DD", "AA", "AD", "WB"], "range": ["#8064A2", "#9BBB59", "#F79646", "#C0504D"]}},
         "strokeDash": {"field": "t", "type": "nominal", "scale": {"domain": ["solid", "dashed"], "range": [[1, 0], [14, 17]]}},
         "order": {"value": null}}},
      {"transform": [{"aggregate": [{"op": "count", "as": "n"}], "groupby": ["p"]}],
       "mark": {"type": "text", "align": "right", "baseline": "middle", "fontSize": 21, "fontWeight": "bold", "font": "Liberation Sans", "color": "#000000"},
       "encoding": {"text": {"field": "p"}, "x": {"datum": 0.072}, "y": {"datum": 1100}}}
    ]},
    {"transform": [{"filter": "datum.p == 'C'"}], "width": 458, "height": 302, "layer": [
      {"mark": {"type": "line", "strokeWidth": 7, "strokeCap": "round", "strokeJoin": "round", "clip": true},
       "encoding": {
         "x": {"field": "x", "type": "quantitative", "scale": {"type": "log", "domain": [1e-10, 0.1]}, "axis": {"title": "Current Density (A/cm^2)", "values": [1e-10, 1e-8, 1e-6, 1e-4, 1e-2], "labelExpr": "'1.E' + round(log(datum.value)/LN10)"}},
         "y": {"field": "y", "type": "quantitative", "scale": {"domain": [-600, 1200], "nice": false, "zero": false}, "axis": {"title": "Potential (mV) vs SCE", "values": [-600, -400, -200, 0, 200, 400, 600, 800, 1000, 1200], "labelExpr": "'' + datum.value"}},
         "color": {"field": "s", "type": "nominal", "scale": {"domain": ["DD", "AA", "AD", "WB"], "range": ["#8064A2", "#9BBB59", "#F79646", "#C0504D"]}},
         "strokeDash": {"field": "t", "type": "nominal", "scale": {"domain": ["solid", "dashed"], "range": [[1, 0], [14, 17]]}},
         "order": {"value": null}}},
      {"transform": [{"aggregate": [{"op": "count", "as": "n"}], "groupby": ["p"]}],
       "mark": {"type": "text", "align": "right", "baseline": "middle", "fontSize": 21, "fontWeight": "bold", "font": "Liberation Sans", "color": "#000000"},
       "encoding": {"text": {"field": "p"}, "x": {"datum": 0.072}, "y": {"datum": 1100}}}
    ]},
    {"transform": [{"filter": "datum.p == 'D'"}], "width": 458, "height": 302, "layer": [
      {"mark": {"type": "line", "strokeWidth": 7, "strokeCap": "round", "strokeJoin": "round", "clip": true},
       "encoding": {
         "x": {"field": "x", "type": "quantitative", "scale": {"type": "log", "domain": [1e-10, 0.1]}, "axis": {"title": "Current Density (A/cm^2)", "values": [1e-10, 1e-8, 1e-6, 1e-4, 1e-2], "labelExpr": "'1.E' + round(log(datum.value)/LN10)"}},
         "y": {"field": "y", "type": "quantitative", "scale": {"domain": [-600, 1200], "nice": false, "zero": false}, "axis": {"title": "Potential (mV) vs SCE", "values": [-600, -400, -200, 0, 200, 400, 600, 800, 1000, 1200], "labelExpr": "'' + datum.value"}},
         "color": {"field": "s", "type": "nominal", "scale": {"domain": ["DD", "AA", "AD", "WB"], "range": ["#8064A2", "#9BBB59", "#F79646", "#C0504D"]}},
         "strokeDash": {"field": "t", "type": "nominal", "scale": {"domain": ["solid", "dashed"], "range": [[1, 0], [14, 17]]}},
         "order": {"value": null}}},
      {"transform": [{"aggregate": [{"op": "count", "as": "n"}], "groupby": ["p"]}],
       "mark": {"type": "text", "align": "right", "baseline": "middle", "fontSize": 21, "fontWeight": "bold", "font": "Liberation Sans", "color": "#000000"},
       "encoding": {"text": {"field": "p"}, "x": {"datum": 0.072}, "y": {"datum": 1100}}}
    ]}
  ]
}
